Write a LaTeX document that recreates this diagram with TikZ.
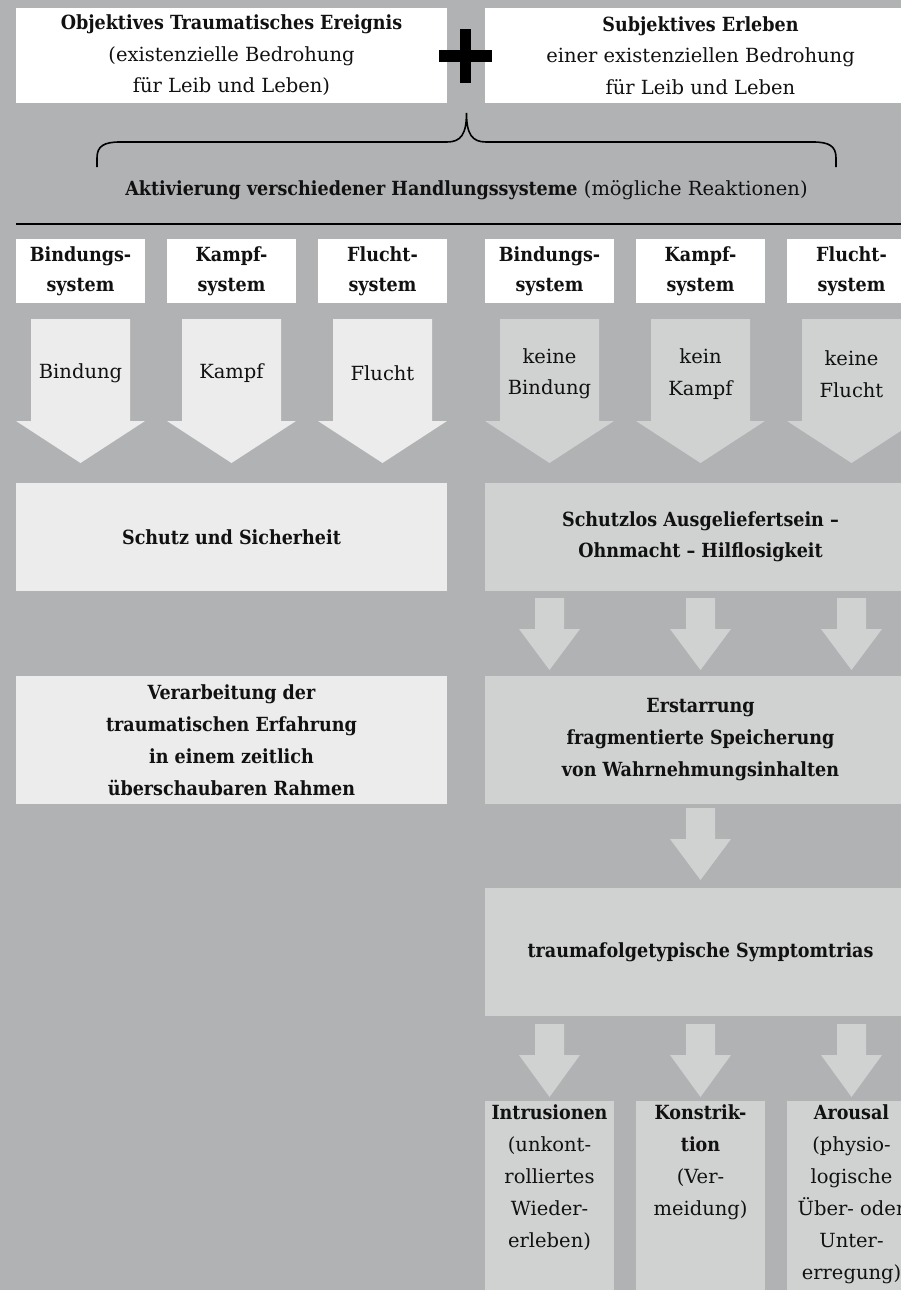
\documentclass[tikz,border=0pt]{standalone}
\usepackage{fontspec}
\setmainfont{DejaVu Serif}[BoldFont={DejaVu Serif Condensed Bold}]
\usetikzlibrary{positioning}
\definecolor{bg}{HTML}{B1B2B4}
\definecolor{lightbox}{HTML}{ECECEC}
\definecolor{midbox}{HTML}{D0D1D1}
\definecolor{ink}{HTML}{111111}
\newcommand\blockarrow[7]{%
  \fill[#7] ({#1-#3},#2) -- ({#1+#3},#2) -- ({#1+#3},#5) -- ({#1+#4},#5) -- (#1,#6) -- ({#1-#4},#5) -- ({#1-#3},#5) -- cycle;}
\begin{document}
\begin{tikzpicture}[x=1pt,y=-1pt,
  every node/.style={text=ink, font=\fontsize{19.5}{31.5}\selectfont},
  box/.style={inner sep=0pt, align=center},
  whitebox/.style={box, fill=white},
  lightb/.style={box, fill=lightbox},
  midb/.style={box, fill=midbox},
  hdr/.style={whitebox, minimum width=129pt, minimum height=64pt, font=\bfseries\fontsize{19.5}{30}\selectfont},
  bigbox/.style={minimum width=431pt},
  arrtext/.style={align=center, inner sep=0pt},
  bottombox/.style={midb, minimum width=129pt, minimum height=200pt, anchor=north},
  bottomtext/.style={align=center, inner sep=0pt, anchor=north}
]
\clip (0,0) rectangle (901,1290);
\fill[bg] (0,0) rectangle (901,1290);

% top boxes
\node[whitebox, bigbox, minimum height=95pt] (obj) at (231.5,55.5)
  {\textbf{Objektives Traumatisches Ereignis}\\(existenzielle Bedrohung\\für Leib und Leben)};
\node[whitebox, bigbox, minimum height=95pt] (subj) at (700.5,55.5)
  {\textbf{Subjektives Erleben}\\einer existenziellen Bedrohung\\für Leib und Leben};
% plus sign
\fill[black] (460,29) rectangle (471,83);
\fill[black] (439,50) rectangle (492,62);

% brace
\draw[line width=1.6pt, black]
  (97,167) -- (97,158) .. controls (97,146) and (104,142) .. (120,142) -- (447,142)
  .. controls (461,142) and (466.5,134) .. (466.5,113)
  .. controls (466.5,134) and (472,142) .. (486,142) -- (813,142)
  .. controls (829,142) and (836,146) .. (836,158) -- (836,167);
\node (akt) at (466.5,190) {\textbf{Aktivierung verschiedener Handlungssysteme} (mögliche Reaktionen)};

% rule
\draw[line width=2.5pt, black] (16,224) -- (905,224);

% system headers
\node[hdr] (h1) at (80.5,271)  {Bindungs-\\system};
\node[hdr] (h2) at (231.5,271) {Kampf-\\system};
\node[hdr] (h3) at (382.5,271) {Flucht-\\system};
\node[hdr] (h4) at (549.5,271) {Bindungs-\\system};
\node[hdr] (h5) at (700.5,271) {Kampf-\\system};
\node[hdr] (h6) at (851.5,271) {Flucht-\\system};

% big arrows
\blockarrow{80.5}{319}{49.5}{64.5}{421}{463}{lightbox}
\blockarrow{231.5}{319}{49.5}{64.5}{421}{463}{lightbox}
\blockarrow{382.5}{319}{49.5}{64.5}{421}{463}{lightbox}
\blockarrow{549.5}{319}{49.5}{64.5}{421}{463}{midbox}
\blockarrow{700.5}{319}{49.5}{64.5}{421}{463}{midbox}
\blockarrow{851.5}{319}{49.5}{64.5}{421}{463}{midbox}
\node[arrtext] (a1) at (80.5,373)  {Bindung};
\node[arrtext] (a2) at (231.5,373) {Kampf};
\node[arrtext] (a3) at (382.5,373) {Flucht};
\node[arrtext] (a4) at (549.5,374) {keine\\Bindung};
\node[arrtext] (a5) at (700.5,374) {kein\\Kampf};
\node[arrtext] (a6) at (851.5,374) {keine\\Flucht};

% second row
\node[lightb, bigbox, minimum height=108pt] (schutz) at (231.5,537) {\textbf{Schutz und Sicherheit}};
\node[midb, bigbox, minimum height=108pt] (schutzlos) at (700.5,537)
  {\textbf{Schutzlos Ausgeliefertsein --}\\\textbf{Ohnmacht -- Hilflosigkeit}};

\blockarrow{549.5}{598}{14.5}{30.5}{629}{670}{midbox}
\blockarrow{700.5}{598}{14.5}{30.5}{629}{670}{midbox}
\blockarrow{851.5}{598}{14.5}{30.5}{629}{670}{midbox}

% third row
\node[lightb, bigbox, minimum height=128pt, font=\bfseries\fontsize{19.5}{32}\selectfont] (verarb) at (231.5,740)
  {Verarbeitung der\\traumatischen Erfahrung\\in einem zeitlich\\überschaubaren Rahmen};
\node[midb, bigbox, minimum height=128pt, font=\bfseries\fontsize{19.5}{32}\selectfont] (erstarr) at (700.5,740)
  {Erstarrung\\fragmentierte Speicherung\\von Wahrnehmungsinhalten};

\blockarrow{700.5}{808}{14.5}{30.5}{839}{880}{midbox}

\node[midb, bigbox, minimum height=128pt] (sympt) at (700.5,952) {\textbf{traumafolgetypische Symptomtrias}};

\blockarrow{549.5}{1024}{14.5}{30.5}{1055}{1097}{midbox}
\blockarrow{700.5}{1024}{14.5}{30.5}{1055}{1097}{midbox}
\blockarrow{851.5}{1024}{14.5}{30.5}{1055}{1097}{midbox}

% bottom boxes
\node[bottombox] (b1) at (549.5,1101) {};
\node[bottombox] (b2) at (700.5,1101) {};
\node[bottombox] (b3) at (851.5,1101) {};
\node[bottomtext, font=\fontsize{19.5}{32}\selectfont] (t1) at (549.5,1104)
  {\textbf{Intrusionen}\\(unkont-\\rolliertes\\Wieder-\\erleben)};
\node[bottomtext, font=\fontsize{19.5}{32}\selectfont] (t2) at (700.5,1104)
  {\textbf{Konstrik-}\\\textbf{tion}\\(Ver-\\meidung)};
\node[bottomtext, font=\fontsize{19.5}{32}\selectfont] (t3) at (851.5,1104)
  {\textbf{Arousal}\\(physio-\\logische\\Über- oder\\Unter-\\erregung)};
\end{tikzpicture}
\end{document}
